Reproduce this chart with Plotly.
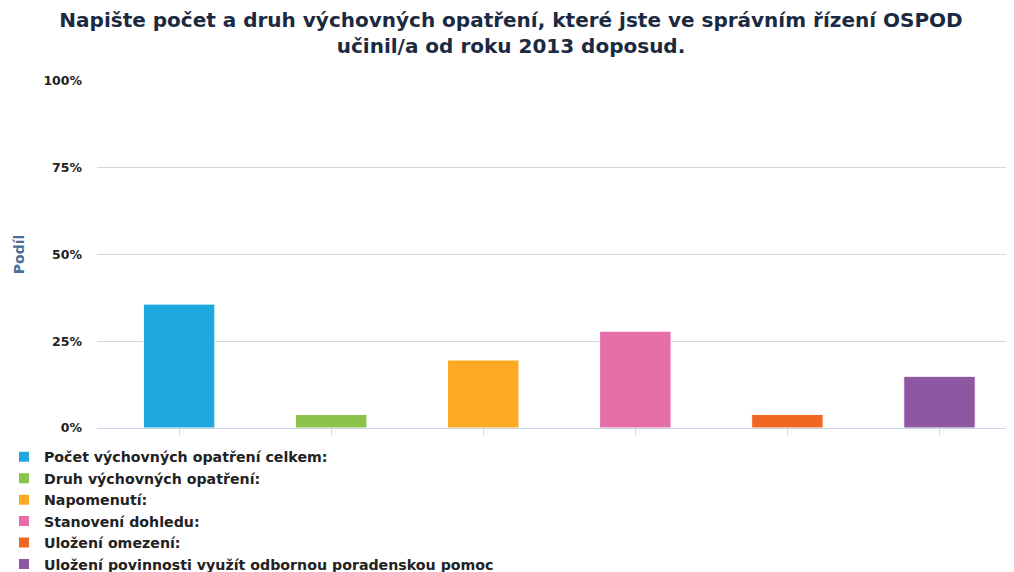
import plotly.graph_objects as go

title_text = "Napište počet a druh výchovných opatření, které jste ve správním řízení OSPOD<br>učinil/a od roku 2013 doposud."
categories = [
    "Počet výchovných opatření celkem:",
    "Druh výchovných opatření:",
    "Napomenutí:",
    "Stanovení dohledu:",
    "Uložení omezení:",
    "Uložení povinnosti využít odbornou poradenskou pomoc",
]
values = [35.7, 3.9, 19.6, 27.9, 3.9, 14.9]
colors = ["#1fa8e0", "#8bc34a", "#fca924", "#e56ea9", "#f06724", "#8f56a1"]
y_ticks = [0, 25, 50, 75, 100]
y_labels = ["0%", "25%", "50%", "75%", "100%"]

fig = go.Figure()
for i, (cat, val, col) in enumerate(zip(categories, values, colors)):
    fig.add_trace(go.Bar(
        x=[i], y=[val], name=cat, width=0.47,
        marker=dict(color=col, line=dict(color="white", width=1)),
    ))

fig.update_layout(
    width=1006, height=572,
    barmode="overlay",
    plot_bgcolor="white", paper_bgcolor="white",
    margin=dict(l=89, r=0, t=73, b=151),
    title=dict(text=title_text, x=0.5, xanchor="center", y=0.9668, yanchor="top",
               font=dict(family="DejaVu Sans", size=20, color="#1b2a41", weight="bold")),
    showlegend=True,
    legend=dict(orientation="v", x=-0.0851, xanchor="left", y=-0.0388, yanchor="top",
                font=dict(family="DejaVu Sans", size=14.2, color="#222", weight="bold"),
                tracegroupgap=0, itemsizing="constant", indentation=-15),
    font=dict(family="DejaVu Sans"),
)
fig.update_xaxes(
    range=[-0.54, 5.49], tickvals=list(range(6)), ticktext=[""] * 6,
    showgrid=False, showline=True, linecolor="#ccd6eb", linewidth=1,
    ticks="outside", ticklen=6, tickcolor="#ccd6eb",
)
fig.update_yaxes(
    range=[0, 100], tickvals=y_ticks, ticktext=y_labels, automargin=False,
    showgrid=True, gridcolor="#d6d6d6", gridwidth=1, zeroline=False,
    tickfont=dict(family="DejaVu Sans", size=12.5, color="#222", weight="bold"),
    title=dict(text="Podíl", font=dict(family="DejaVu Sans", size=14, color="#4a6d99", weight="bold"), standoff=15),
    ticklabelstandoff=14,
)
fig.write_html("out.html")
